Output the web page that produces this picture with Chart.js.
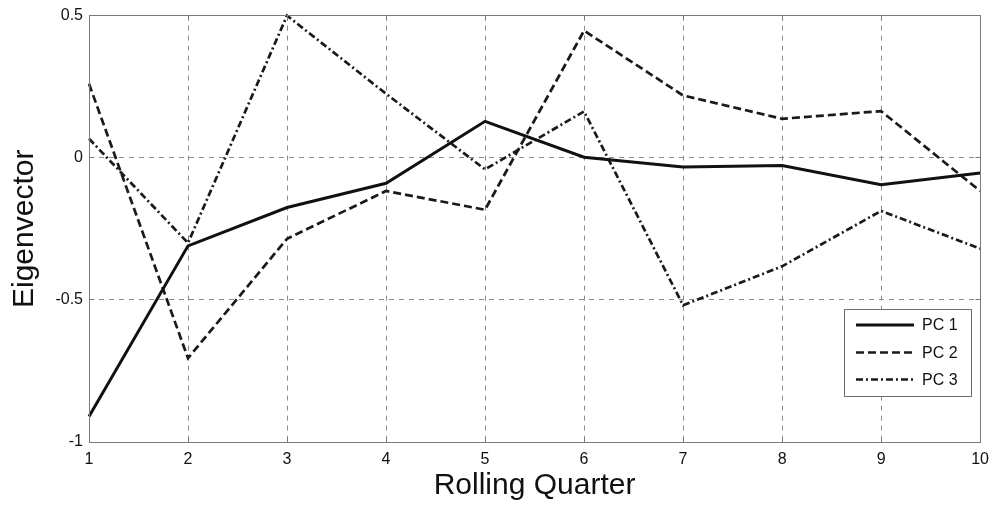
<!DOCTYPE html>
<html>
<head>
<meta charset="utf-8">
<title>Eigenvector by Rolling Quarter</title>
<script src="https://cdn.jsdelivr.net/npm/chart.js@4/dist/chart.umd.min.js"></script>
<style>
  html, body { margin: 0; padding: 0; background: #ffffff; }
  #wrap { width: 997px; height: 508px; }
</style>
</head>
<body>
<div id="wrap"><canvas id="c" width="997" height="508"></canvas></div>
<script>
// Rolling quarters on the x axis
const quarters = ['1', '2', '3', '4', '5', '6', '7', '8', '9', '10'];

// Eigenvector loadings of the first three principal components
const pc1 = [-0.91, -0.31, -0.175, -0.09, 0.128, 0.002, -0.033, -0.027, -0.095, -0.054];
const pc2 = [0.26, -0.705, -0.285, -0.117, -0.183, 0.447, 0.219, 0.137, 0.164, -0.117];
const pc3 = [0.067, -0.3, 0.5, 0.225, -0.041, 0.163, -0.519, -0.382, -0.187, -0.32];

// Y axis tick values and their labels
const yTickValues = [-1, -0.5, 0, 0.5];
const yTickLabels = ['-1', '-0.5', '0', '0.5'];

const FONT = '"Liberation Sans", Arial, Helvetica, sans-serif';
const INK = '#111111';
const GRID = '#8c8c8c';

// crisp 1px line position, same rounding the scales use for grid lines
const crisp = p => Math.round(p - 0.5) + 0.5;

// grid lines on the plot edges are left to the solid frame
const innerGrid = ctx => (ctx.index === 0 || ctx.index === ctx.scale.ticks.length - 1) ? 'rgba(0,0,0,0)' : GRID;

// Axes box, inward tick marks and an in-plot legend
const framePlugin = {
  id: 'frame',
  afterDatasetsDraw(chart) {
    const { ctx, chartArea: a, scales } = chart;
    const L = crisp(a.left), R = crisp(a.right);
    const T = crisp(a.top), B = crisp(a.bottom);
    ctx.save();
    ctx.strokeStyle = '#7a7a7a';
    ctx.lineWidth = 1;
    ctx.setLineDash([]);
    ctx.strokeRect(L, T, R - L, B - T);

    // inward tick marks
    const tl = 5;
    ctx.beginPath();
    scales.x.ticks.forEach((t, i) => {
      const x = crisp(scales.x.getPixelForTick(i));
      ctx.moveTo(x, B); ctx.lineTo(x, B - tl);
      ctx.moveTo(x, T); ctx.lineTo(x, T + tl);
    });
    scales.y.ticks.forEach(t => {
      const y = crisp(scales.y.getPixelForValue(t.value));
      ctx.moveTo(L, y); ctx.lineTo(L + tl, y);
      ctx.moveTo(R, y); ctx.lineTo(R - tl, y);
    });
    ctx.stroke();

    // legend
    const boxX = 844.5, boxY = 309.5, boxW = 127, boxH = 87;
    ctx.fillStyle = '#ffffff';
    ctx.fillRect(boxX, boxY, boxW, boxH);
    ctx.strokeStyle = '#6e6e6e';
    ctx.strokeRect(boxX, boxY, boxW, boxH);
    const rows = [325, 352.5, 379.5];
    ctx.font = '16px ' + FONT;
    ctx.textBaseline = 'middle';
    ctx.textAlign = 'left';
    chart.data.datasets.forEach((ds, i) => {
      const y = rows[i];
      ctx.beginPath();
      ctx.setLineDash(ds.borderDash || []);
      ctx.lineWidth = ds.borderWidth;
      ctx.strokeStyle = ds.borderColor;
      ctx.moveTo(856, y);
      ctx.lineTo(914, y);
      ctx.stroke();
      ctx.setLineDash([]);
      ctx.fillStyle = INK;
      ctx.fillText(ds.label, 922, y + 1);
    });
    ctx.restore();
  }
};

new Chart(document.getElementById('c'), {
  type: 'line',
  data: {
    labels: quarters,
    datasets: [
      { label: 'PC 1', data: pc1, borderColor: INK, borderWidth: 3, borderDash: [] },
      { label: 'PC 2', data: pc2, borderColor: '#1a1a1a', borderWidth: 2.7, borderDash: [8, 4] },
      { label: 'PC 3', data: pc3, borderColor: '#1a1a1a', borderWidth: 2.7, borderDash: [7, 3, 2, 3] }
    ]
  },
  options: {
    responsive: false,
    animation: false,
    devicePixelRatio: 1,
    clip: 4,
    layout: { padding: { left: 0, right: 15, top: 15, bottom: 0 } },
    elements: {
      point: { radius: 0, hoverRadius: 0 },
      line: { tension: 0, fill: false, borderCapStyle: 'butt', borderJoinStyle: 'miter' }
    },
    plugins: {
      legend: { display: false },
      title: { display: false },
      tooltip: { enabled: false }
    },
    scales: {
      x: {
        type: 'category',
        offset: false,
        grid: { color: innerGrid, lineWidth: 1, drawTicks: false },
        border: { display: false, dash: [5, 5] },
        ticks: { color: INK, font: { family: FONT, size: 16 }, padding: 8, maxRotation: 0, autoSkip: false },
        title: {
          display: true, text: 'Rolling Quarter', color: INK,
          font: { family: FONT, size: 30 }, padding: { top: 0, bottom: 4 }
        },
        afterFit(scale) { scale.height = 66; }
      },
      y: {
        type: 'linear',
        min: -1, max: 0.5,
        grid: { color: innerGrid, lineWidth: 1, drawTicks: false },
        border: { display: false, dash: [5, 5] },
        afterBuildTicks(scale) { scale.ticks = yTickValues.map(v => ({ value: v })); },
        ticks: {
          color: INK, font: { family: FONT, size: 16 }, padding: 6,
          callback(value) {
            const i = yTickValues.indexOf(value);
            return i >= 0 ? yTickLabels[i] : '';
          }
        },
        title: {
          display: true, text: 'Eigenvector', color: INK,
          font: { family: FONT, size: 30 }, padding: { top: 7, bottom: 0 }
        },
        afterFit(scale) { scale.width = 89; }
      }
    }
  },
  plugins: [framePlugin]
});
</script>
</body>
</html>
